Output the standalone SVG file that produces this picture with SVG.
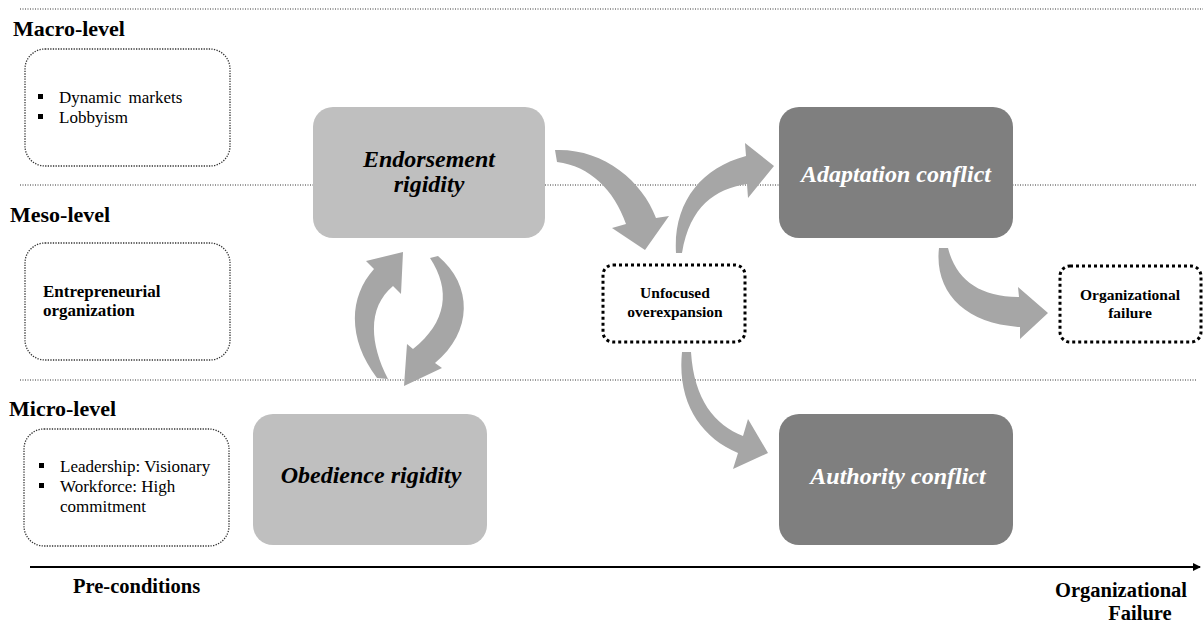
<svg xmlns="http://www.w3.org/2000/svg" width="1203" height="623" viewBox="0 0 1203 623">
  <style>
    text { font-family: 'Liberation Serif', 'DejaVu Serif', 'Times New Roman', serif; fill: #000; }
    .level { font-weight: bold; font-size: 22px; }
    .bullet-text { font-size: 17px; }
    .bold-text { font-weight: bold; font-size: 17px; }
    .small-bold { font-weight: bold; font-size: 15.5px; text-anchor: middle; }
    .axis-label { font-weight: bold; font-size: 20.5px; }
    .phase { font-weight: bold; font-style: italic; font-size: 24px; text-anchor: middle; }
    .on-dark { fill: #fff; }
    .divider { stroke: #333; stroke-width: 1; stroke-dasharray: 1 1.5; fill: none; }
    .cond-box { fill: #fff; stroke: #333; stroke-width: 1.3; stroke-dasharray: 1.3 1.3; }
    .state-box { fill: #fff; stroke: #000; stroke-width: 3; stroke-dasharray: 3 3; }
    .light { fill: #bfbfbf; }
    .dark { fill: #7f7f7f; }
    .flow { fill: #a6a6a6; }
  </style>
  <defs>
    <marker id="axis-head" markerWidth="8" markerHeight="8" refX="7" refY="4" orient="auto" markerUnits="userSpaceOnUse">
      <path d="M0,0 L8,4 L0,8 Z" fill="#000"/>
    </marker>
  </defs>

  <!-- level dividers -->
  <g id="dividers">
    <line class="divider" x1="20" y1="9" x2="1203" y2="9"/>
    <line class="divider" x1="20" y1="185" x2="1197" y2="185"/>
    <line class="divider" x1="20" y1="380" x2="1197" y2="380"/>
  </g>

  <!-- level titles -->
  <g id="level-titles">
    <text class="level" x="13" y="36">Macro-level</text>
    <text class="level" x="10" y="222">Meso-level</text>
    <text class="level" x="9" y="416">Micro-level</text>
  </g>

  <!-- pre-condition boxes -->
  <g id="macro-conditions">
    <rect class="cond-box" x="25" y="49" width="205" height="117" rx="20"/>
    <rect x="38" y="94" width="5" height="5" fill="#000"/>
    <text class="bullet-text" x="59" y="103" word-spacing="3">Dynamic markets</text>
    <rect x="38" y="114" width="5" height="5" fill="#000"/>
    <text class="bullet-text" x="59" y="123">Lobbyism</text>
  </g>
  <g id="meso-conditions">
    <rect class="cond-box" x="25" y="243" width="205" height="117" rx="20"/>
    <text class="bold-text" x="43" y="297">Entrepreneurial</text>
    <text class="bold-text" x="43" y="316">organization</text>
  </g>
  <g id="micro-conditions">
    <rect class="cond-box" x="24" y="429" width="205" height="117" rx="20"/>
    <rect x="39" y="463" width="5" height="5" fill="#000"/>
    <text class="bullet-text" x="60" y="472">Leadership: Visionary</text>
    <rect x="39" y="483" width="5" height="5" fill="#000"/>
    <text class="bullet-text" x="60" y="492">Workforce: High</text>
    <text class="bullet-text" x="60" y="512">commitment</text>
  </g>

  <!-- rigidity nodes -->
  <g id="endorsement-rigidity">
    <rect class="light" x="313" y="107" width="232" height="131" rx="20"/>
    <text class="phase" x="429" y="167">Endorsement</text>
    <text class="phase" x="429" y="192">rigidity</text>
  </g>
  <g id="obedience-rigidity">
    <rect class="light" x="253" y="414" width="234" height="131" rx="20"/>
    <text class="phase" x="371" y="483">Obedience rigidity</text>
  </g>

  <!-- conflict nodes -->
  <g id="adaptation-conflict">
    <rect class="dark" x="779" y="107" width="234" height="131" rx="20"/>
    <text class="phase on-dark" x="896" y="182">Adaptation conflict</text>
  </g>
  <g id="authority-conflict">
    <rect class="dark" x="779" y="414" width="234" height="131" rx="20"/>
    <text class="phase on-dark" x="898" y="484">Authority conflict</text>
  </g>

  <!-- outcome states -->
  <g id="unfocused-overexpansion">
    <rect class="state-box" x="603" y="265" width="142" height="77" rx="10"/>
    <text class="small-bold" x="675" y="298">Unfocused</text>
    <text class="small-bold" x="675" y="317">overexpansion</text>
  </g>
  <g id="organizational-failure">
    <rect class="state-box" x="1060" y="266" width="141" height="76" rx="10"/>
    <text class="small-bold" x="1130" y="300">Organizational</text>
    <text class="small-bold" x="1130" y="318">failure</text>
  </g>

  <!-- curved flow arrows -->
  <g id="connectors">
    <!-- obedience -> endorsement -->
    <path class="flow" d="M377,378 C348,340 348,298 374,269 L366,261 L403,252 L401,294 L393,286 C369,306 368,340 388,379 Z"/>
    <!-- endorsement -> obedience -->
    <path class="flow" d="M438,256 C473,285 473,332 435,363 L442,368 L404,386 L407,344 L413,349 C447,322 451,290 430,258 Z"/>
    <!-- endorsement -> unfocused overexpansion -->
    <path class="flow" d="M555,150 C602,148 642,180 656,218 L669,216 L645,250 L612,228 L626,224 C614,190 590,166 557,162 Z"/>
    <!-- unfocused overexpansion -> adaptation conflict -->
    <path class="flow" d="M676,253 C673,204 700,168 746,156 L745,143 L774,166 L748,198 L747,184 C715,189 690,206 682,253 Z"/>
    <!-- unfocused overexpansion -> authority conflict -->
    <path class="flow" d="M682,352 C677,402 700,437 738,453 L733,469 L768,453 L748,419 L743,436 C715,425 694,400 691,352 Z"/>
    <!-- adaptation conflict -> organizational failure -->
    <path class="flow" d="M939,248 C934,292 965,324 1020,327 L1020,339 L1048,313 L1018,287 L1019,297 C980,297 956,280 948,248 Z"/>
  </g>

  <!-- timeline axis -->
  <g id="timeline">
    <line x1="30" y1="567" x2="1200" y2="567" stroke="#000" stroke-width="2" marker-end="url(#axis-head)"/>
    <text class="axis-label" x="73" y="593">Pre-conditions</text>
    <text class="axis-label" x="1121" y="597" text-anchor="middle">Organizational</text>
    <text class="axis-label" x="1140" y="620" text-anchor="middle">Failure</text>
  </g>
</svg>
